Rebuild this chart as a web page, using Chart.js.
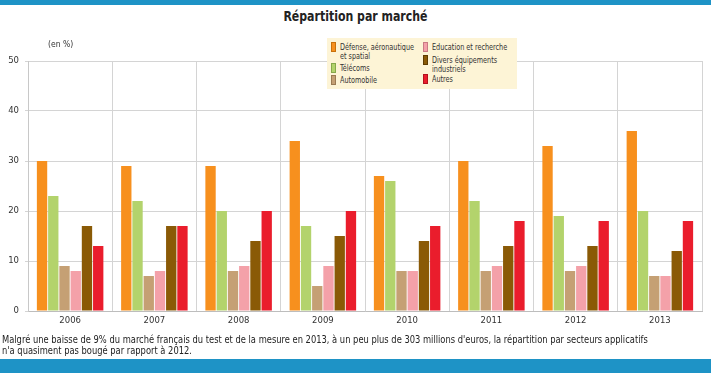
<!DOCTYPE html>
<html>
<head>
<meta charset="utf-8">
<script src="https://cdn.jsdelivr.net/npm/chart.js@4"></script>
<style>
  html, body { margin: 0; padding: 0; background: #fff; }
  body { width: 711px; height: 373px; position: relative; overflow: hidden;
         font-family: "DejaVu Sans", sans-serif; font-stretch: condensed; color: #222; }
  #topbar { position: absolute; left: 0; top: 0; width: 711px; height: 5px; background: #1e93c6; }
  #botbar { position: absolute; left: 0; top: 359px; width: 711px; height: 14px; background: #1e93c6; }
  #title { position: absolute; left: 0; top: 8px; width: 711px; text-align: center; font-size: 14px; font-weight: bold; color: #222;
           transform: scaleX(0.87); transform-origin: 355px 0; }
  #unit { position: absolute; left: 48px; top: 39px; font-size: 8.5px; color: #333; white-space: nowrap; }
  #caption { position: absolute; left: 2px; top: 334px; font-size: 10px; line-height: 11px; color: #222; white-space: nowrap;
             transform: scaleX(0.927); transform-origin: 0 0; }
  #legend { position: absolute; left: 327px; top: 38px; width: 190px; height: 51px; background: #fdf4d6; }
  .item { position: absolute; font-size: 8px; line-height: 9px; color: #333; white-space: nowrap;
          transform: scaleX(0.9); transform-origin: 0 0; }
  .sw { position: absolute; width: 5px; height: 10px; box-sizing: border-box; }
  #wrap { position: absolute; left: 0; top: 0; width: 711px; height: 373px; }
</style>
</head>
<body>
<div id="topbar"></div>
<div id="title">Répartition par marché</div>
<div id="wrap"><canvas id="chart" width="711" height="373"></canvas></div>
<div id="unit">(en %)</div>
<div id="legend"></div>
<div id="caption">Malgré une baisse de 9% du marché français du test et de la mesure en 2013, à un peu plus de 303 millions d'euros, la répartition par secteurs applicatifs<br>n'a quasiment pas bougé par rapport à 2012.</div>
<div id="botbar"></div>
<script>
const years = ['2006', '2007', '2008', '2009', '2010', '2011', '2012', '2013'];
const seriesNames = ['Défense, aéronautique et spatial', 'Télécoms', 'Automobile', 'Education et recherche', 'Divers équipements industriels', 'Autres'];
const defense = [30, 29, 29, 34, 27, 30, 33, 36];
const telecoms = [23, 22, 20, 17, 26, 22, 19, 20];
const automobile = [9, 7, 8, 5, 8, 8, 8, 7];
const education = [8, 8, 9, 9, 8, 9, 9, 7];
const divers = [17, 17, 14, 15, 14, 13, 13, 12];
const autres = [13, 17, 20, 20, 17, 18, 18, 18];
const yTicks = [0, 10, 20, 30, 40, 50];
const colors = ['#f7901e', '#b3d36c', '#c5a074', '#f4a1a9', '#8a5a06', '#ea1d2c'];
const borders = ['#c8700a', '#86a84a', '#9a7a52', '#c97a84', '#5e3c00', '#b3111d'];

// legend: two columns, label lines split by hand
const legendItems = [
  { lines: ['Défense, aéronautique', 'et spatial'], x: 4, y: 5, c: 0 },
  { lines: ['Télécoms'], x: 4, y: 26, c: 1 },
  { lines: ['Automobile'], x: 4, y: 38, c: 2 },
  { lines: ['Education et recherche'], x: 96, y: 5, c: 3 },
  { lines: ['Divers équipements', 'industriels'], x: 96, y: 18, c: 4 },
  { lines: ['Autres'], x: 96, y: 37, c: 5 }
];
const leg = document.getElementById('legend');
legendItems.forEach(it => {
  const sw = document.createElement('div');
  sw.className = 'sw';
  sw.style.left = it.x + 'px';
  sw.style.top = (it.y - 1) + 'px';
  sw.style.background = colors[it.c];
  sw.style.border = '1px solid ' + borders[it.c];
  leg.appendChild(sw);
  const t = document.createElement('div');
  t.className = 'item';
  t.style.left = (it.x + 9) + 'px';
  t.style.top = it.y + 'px';
  t.innerHTML = it.lines.join('<br>');
  leg.appendChild(t);
});

const seriesData = [defense, telecoms, automobile, education, divers, autres];
const font = { family: '"DejaVu Sans", sans-serif', size: 8.5 };

new Chart(document.getElementById('chart'), {
  type: 'bar',
  data: {
    labels: years,
    datasets: seriesData.map((d, i) => ({
      label: seriesNames[i],
      data: d,
      backgroundColor: colors[i],
      borderWidth: 0,
      categoryPercentage: 0.8,
      barPercentage: 0.92
    }))
  },
  options: {
    responsive: false,
    animation: false,
    devicePixelRatio: 1,
    layout: { padding: { left: 0, right: 9, top: 61, bottom: 0 } },
    plugins: { legend: { display: false }, tooltip: { enabled: false } },
    scales: {
      x: {
        grid: { offset: true, color: '#d4d4d4', drawTicks: false },
        border: { color: '#bdbdbd' },
        ticks: { color: '#333', font: font, padding: 5 },
        afterFit: s => { s.height = 62; }
      },
      y: {
        min: 0, max: 50,
        afterBuildTicks: s => { s.ticks = yTicks.map(v => ({ value: v })); },
        grid: { color: '#d4d4d4', tickLength: 3 },
        border: { color: '#c8c8c8' },
        ticks: { color: '#333', font: font, padding: 6 },
        afterFit: s => { s.width = 28; }
      }
    }
  }
});
</script>
</body>
</html>
